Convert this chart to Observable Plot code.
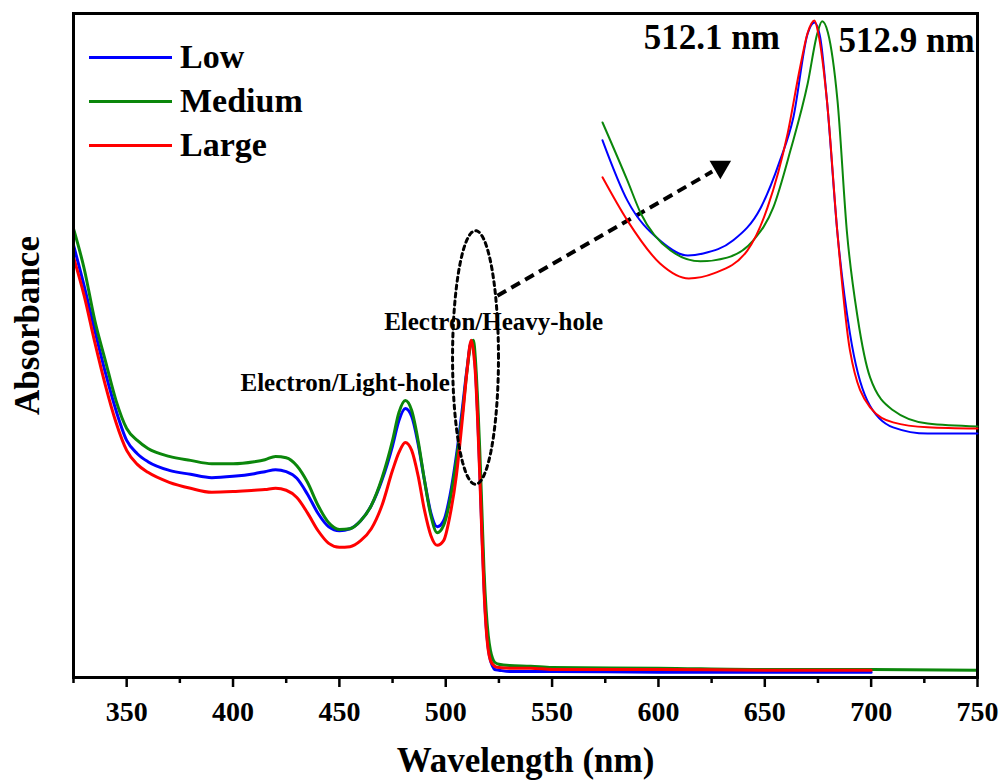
<!DOCTYPE html>
<html><head><meta charset="utf-8">
<script src="https://cdn.jsdelivr.net/npm/d3@7"></script>
<script src="https://cdn.jsdelivr.net/npm/@observablehq/plot@0.6"></script>
<style>
body{margin:0;background:#fff;}
#wrap{position:relative;width:1003px;height:780px;overflow:hidden;font-family:"Liberation Serif","Times New Roman",serif;}
#wrap svg{position:absolute;overflow:visible;}
#legend{position:absolute;left:89px;top:35px;font-weight:bold;font-size:34px;color:#000;}
.row{display:flex;align-items:center;height:44px;line-height:44px;}
.sw{width:83px;height:3px;margin-right:8px;}
</style></head><body><div id="wrap"></div>
<script>
const FONT = '"Liberation Serif","Times New Roman",serif';

// ---- data ----
const seriesNames = ["Low", "Medium", "Large"];
const seriesColors = ["#0000ff", "#0b870b", "#ff0000"];

const mainWl = [325,330,335,340,345,350,355,360,370,380,390,400,410,415,420,425,430,435,440,445,450,455,460,465,470,475,478,481,484,487,490,493,496,499,502,505,508,510,512,513,514,515,516,517,518,519,520,521,522,523,525,530,540,550,600,650,700,750];
const lowAbs = [0.651,0.590,0.523,0.459,0.402,0.357,0.337,0.325,0.312,0.306,0.301,0.303,0.307,0.310,0.313,0.310,0.300,0.276,0.247,0.227,0.221,0.224,0.236,0.259,0.297,0.349,0.387,0.405,0.393,0.352,0.297,0.248,0.227,0.236,0.274,0.334,0.410,0.465,0.505,0.500,0.462,0.395,0.312,0.221,0.139,0.078,0.044,0.026,0.017,0.012,0.011,0.009,0.009,0.009,0.008,0.008,0.008,null];
const mediumAbs = [0.676,0.616,0.538,0.477,0.417,0.375,0.357,0.345,0.333,0.327,0.322,0.322,0.325,0.328,0.333,0.331,0.319,0.294,0.259,0.233,0.223,0.224,0.236,0.259,0.300,0.357,0.399,0.417,0.402,0.357,0.297,0.244,0.218,0.229,0.267,0.327,0.402,0.462,0.505,0.508,0.477,0.417,0.342,0.252,0.161,0.101,0.063,0.041,0.029,0.023,0.020,0.018,0.017,0.015,0.014,0.012,0.012,0.011];
const largeAbs = [0.633,0.575,0.505,0.440,0.384,0.342,0.321,0.309,0.294,0.285,0.279,0.280,0.282,0.283,0.285,0.282,0.271,0.248,0.221,0.202,0.196,0.197,0.206,0.224,0.259,0.312,0.339,0.354,0.342,0.304,0.252,0.214,0.199,0.206,0.244,0.304,0.395,0.462,0.508,0.492,0.455,0.387,0.304,0.214,0.131,0.074,0.041,0.026,0.020,0.017,0.015,0.014,0.014,0.012,0.012,0.011,0.011,null];

// inset (zoom on heavy-hole exciton peak)
const insetLowWl  = [490.0,492.6,496.0,498.9,500.5,503.6,506.5,508.5,509.9,511.4,512.1,512.7,513.4,514.5,515.8,517.6,520.3,523.9,529.1];
const insetLowAbs = [0.712,0.567,0.471,0.435,0.440,0.471,0.550,0.663,0.767,0.969,0.995,0.959,0.808,0.488,0.248,0.087,0.022,0.007,0.007];
const insetMediumWl  = [490.0,492.6,494.0,497.1,500.2,503.0,505.7,507.8,509.6,511.4,512.4,512.9,513.5,514.5,515.5,516.6,517.9,520.3,523.9,529.1];
const insetMediumAbs = [0.755,0.615,0.536,0.447,0.421,0.430,0.471,0.550,0.688,0.849,0.969,0.998,0.971,0.808,0.488,0.286,0.142,0.063,0.031,0.024];
const insetLargeWl  = [490.0,492.6,496.0,499.0,501.6,505.1,507.2,509.3,510.6,511.4,512.1,512.5,513.4,514.5,515.8,517.9,520.3,523.9,529.1];
const insetLargeAbs = [0.623,0.519,0.416,0.380,0.392,0.447,0.550,0.728,0.887,0.971,1.000,0.969,0.808,0.488,0.207,0.070,0.034,0.022,0.019];

const majorTicks = [350,400,450,500,550,600,650,700,750];
const minorTicks = [325,375,425,475,525,575,625,675,725];

const peakLabelLeft = {t:"512.1 nm", wl:508.5, a:0.958};
const peakLabelRight = {t:"512.9 nm", wl:514.6, a:0.952};
const transitionLabels = [{t:"Electron/Light-hole", wl:452.7, a:0.444}, {t:"Electron/Heavy-hole", wl:522.5, a:0.535}];
const ellipseCenter = [514.0, 0.482];
const ellipseRadii = [10.8, 0.191];
const arrowFrom = [524.3, 0.575];
const arrowTo = [632.9, 0.776];

// ---- build ----
const mainAbs = [lowAbs, mediumAbs, largeAbs];
const rows = seriesNames.flatMap((s, i) => mainWl.map((wl, j) => ({series: s, wl, abs: mainAbs[i][j]})));
const insetWl = [insetLowWl, insetMediumWl, insetLargeWl];
const insetAbs = [insetLowAbs, insetMediumAbs, insetLargeAbs];
const insetRows = seriesNames.flatMap((s, i) => insetWl[i].map((wl, j) => ({series: s, wl, abs: insetAbs[i][j]})));

const ellipsePts = d3.range(0, 361, 4).map(t => ({
  wl: ellipseCenter[0] + ellipseRadii[0] * Math.cos(t * Math.PI / 180),
  a: ellipseCenter[1] + ellipseRadii[1] * Math.sin(t * Math.PI / 180)
}));
const lerp = (t) => ({wl: arrowFrom[0] + t * (arrowTo[0] - arrowFrom[0]), a: arrowFrom[1] + t * (arrowTo[1] - arrowFrom[1])});

const W = 1003, H = 780, mL = 73, mR = 26, mT = 13, mB = 103;
const sx = Plot.scale({x: {domain: [325, 750], range: [mL, W - mR]}});
const sy = Plot.scale({y: {domain: [0, 1], range: [H - mB, mT]}});
const ang = Math.atan2(sy.apply(arrowTo[1]) - sy.apply(arrowFrom[1]), sx.apply(arrowTo[0]) - sx.apply(arrowFrom[0])) * 180 / Math.PI;
const linkEnd = lerp(0.93), headPos = lerp(0.965);

const color = {domain: seriesNames, range: seriesColors};
const style = {fontFamily: FONT, background: "transparent", overflow: "visible", color: "#000"};

const main = Plot.plot({
  width: W, height: H, marginLeft: mL, marginRight: mR, marginTop: mT, marginBottom: mB,
  x: {domain: [325, 750]},
  y: {domain: [0, 1], axis: null},
  color, style,
  marks: [
    Plot.axisX({ticks: majorTicks, tickSize: 10, tickPadding: 14, fontSize: 28, fontWeight: "bold", strokeWidth: 2.5, label: null, tickFormat: d => String(d)}),
    Plot.axisX({ticks: minorTicks, tickSize: 6, strokeWidth: 2.5, text: null, label: null}),
    Plot.line(rows, {x: "wl", y: "abs", z: "series", stroke: "series", strokeWidth: 3, curve: "monotone-x"}),
    Plot.text(transitionLabels, {x: "wl", y: "a", text: "t", fontSize: 25, fontWeight: "bold", fill: "#000"}),
    Plot.line(ellipsePts, {x: "wl", y: "a", stroke: "#000", strokeWidth: 3, strokeDasharray: "4,4"}),
    Plot.link([0], {x1: () => arrowFrom[0], y1: () => arrowFrom[1], x2: () => linkEnd.wl, y2: () => linkEnd.a, stroke: "#000", strokeWidth: 4, strokeDasharray: "10,6"}),
    Plot.dot([headPos], {x: "wl", y: "a", symbol: "triangle", r: 8, fill: "#000", stroke: "none", rotate: ang + 90}),
    Plot.text(["Wavelength (nm)"], {text: d => d, frameAnchor: "bottom", lineAnchor: "middle", dy: 83, fontSize: 35, fontWeight: "bold", fill: "#000"}),
    Plot.text(["Absorbance"], {text: d => d, frameAnchor: "left", textAnchor: "middle", lineAnchor: "middle", dx: -46, dy: -20, rotate: -90, fontSize: 35, fontWeight: "bold", fill: "#000"}),
    Plot.frame({stroke: "#000", strokeWidth: 3})
  ]
});
main.style.left = "0px"; main.style.top = "0px";

const iL = 10, iR = 24, iT = 20, iB = 10;
const inset = Plot.plot({
  width: iL + 375 + iR, height: iT + 416 + iB, marginLeft: iL, marginRight: iR, marginTop: iT, marginBottom: iB,
  x: {domain: [490, 529.1], axis: null},
  y: {domain: [0, 1], axis: null},
  color, style,
  marks: [
    Plot.line(insetRows, {x: "wl", y: "abs", z: "series", stroke: "series", strokeWidth: 2, curve: "monotone-x"}),
    Plot.text([peakLabelLeft], {x: "wl", y: "a", text: "t", textAnchor: "end", fontSize: 35, fontWeight: "bold", fill: "#000"}),
    Plot.text([peakLabelRight], {x: "wl", y: "a", text: "t", textAnchor: "start", fontSize: 35, fontWeight: "bold", fill: "#000"})
  ]
});
inset.style.left = (602 - iL) + "px"; inset.style.top = "0px";

const wrap = document.getElementById("wrap");
wrap.appendChild(main);
wrap.appendChild(inset);

const legend = document.createElement("div");
legend.id = "legend";
seriesNames.forEach((s, i) => {
  const row = document.createElement("div"); row.className = "row";
  const sw = document.createElement("span"); sw.className = "sw"; sw.style.background = seriesColors[i];
  const tx = document.createElement("span"); tx.textContent = s;
  row.appendChild(sw); row.appendChild(tx); legend.appendChild(row);
});
wrap.appendChild(legend);
</script></body></html>
